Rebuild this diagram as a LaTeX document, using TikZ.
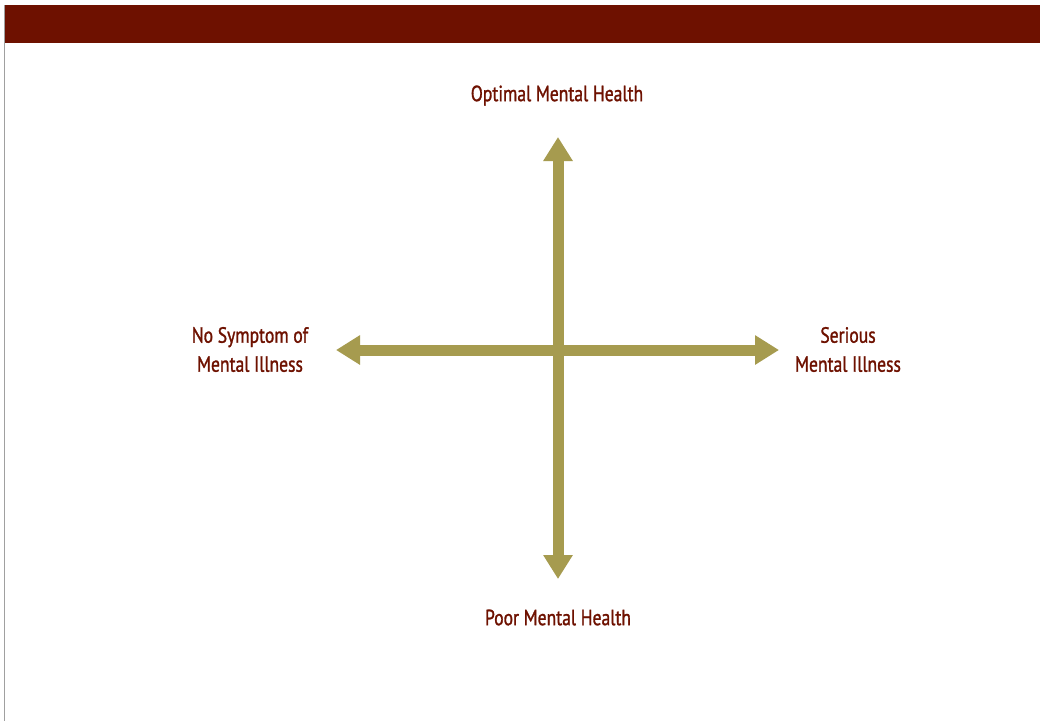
\documentclass[tikz,border=0pt]{standalone}
\usepackage{fontspec}
\setmainfont[FakeStretch=0.8,FakeBold=1.2]{PT Sans}
\usetikzlibrary{arrows.meta}
\definecolor{band}{HTML}{6E1100}
\definecolor{olive}{HTML}{A69B4F}
\definecolor{edge}{HTML}{A0A0A0}
\tikzset{
  lbl/.style={text=band, font=\fontsize{22}{29}\selectfont, align=center, inner sep=0pt},
  axis/.style={draw=olive, line width=11pt, {Triangle[length=24pt,width=28pt]}-{Triangle[length=24pt,width=28pt]}}
}
\begin{document}
\begin{tikzpicture}[x=1pt,y=-1pt]
\useasboundingbox (0,0) rectangle (1040,721);
\fill[white] (0,0) rectangle (1040,721);
\fill[band] (5,5) rectangle (1040,43);
\draw[edge, line width=1.2pt] (4.6,5) -- (4.6,721);
\coordinate (top) at (558,137);
\coordinate (bot) at (558,579);
\coordinate (lft) at (336,350);
\coordinate (rgt) at (779,350);
\draw[axis] (bot) -- (top);
\draw[axis] (lft) -- (rgt);
\node[lbl] (opt) at (557,95.5) {Optimal Mental Health};
\node[lbl] (poor) at (558,617.5) {Poor Mental Health};
\node[lbl] (nosym) at (250,349.5) {No Symptom of\\Mental Illness};
\node[lbl] (ser) at (848,349.5) {Serious\\Mental Illness};
\end{tikzpicture}
\end{document}
